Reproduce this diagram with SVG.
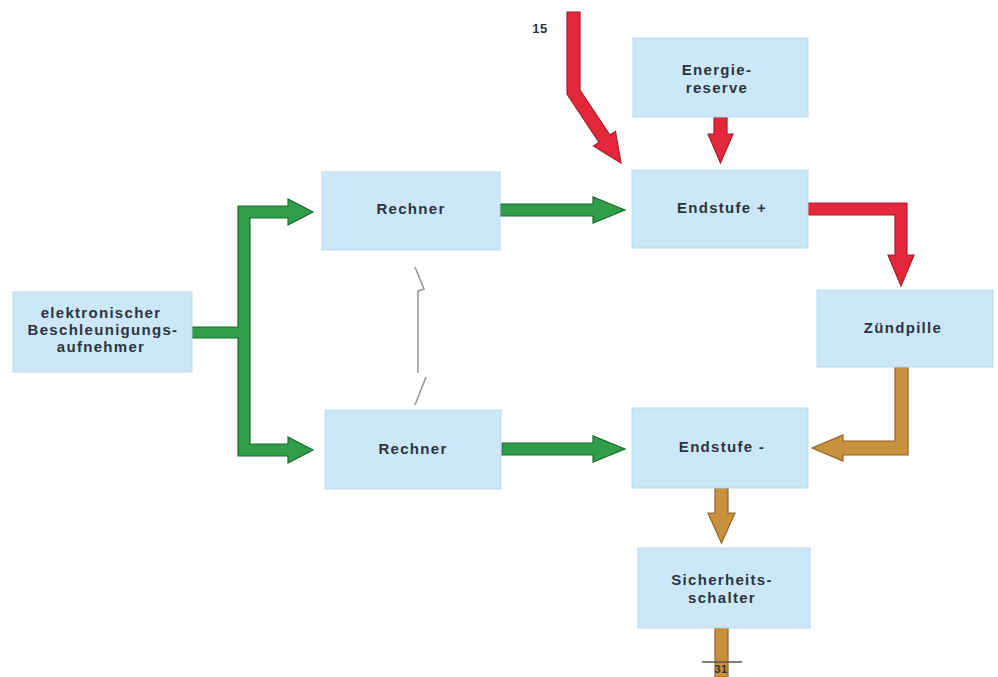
<svg xmlns="http://www.w3.org/2000/svg" width="998" height="677" viewBox="0 0 998 677">
<style>
.box{fill:#cce8f8;stroke:#b9dcf1;stroke-width:1}
.t{font-family:"Liberation Sans",Arial,sans-serif;font-weight:bold;font-size:15px;letter-spacing:1.3px;fill:#2b3440;text-anchor:middle}
.g{fill:#2f9d49;stroke:#1d6a30;stroke-width:1.2;stroke-linejoin:miter}
.r{fill:#e3283c;stroke:#a81c2b;stroke-width:1.2}
.b{fill:#c9903d;stroke:#8f6526;stroke-width:1.2}
.gray{fill:none;stroke:#9a9a9a;stroke-width:1.6}
</style>
<rect width="998" height="677" fill="#ffffff"/>
<g id="connectors">
<path class="g" d="M192,327 L238,327 L238,206 L288,206 L288,199 L313,212 L288,225 L288,218 L250,218 L250,444 L288,444 L288,437 L313,450 L288,463 L288,456 L238,456 L238,338 L192,338 Z"/>
<path class="g" d="M500,204 L593,204 L593,197 L625,210 L593,223 L593,216 L500,216 Z"/>
<path class="g" d="M502,443 L593,443 L593,436 L625,449 L593,462 L593,455 L502,455 Z"/>
<path class="r" d="M567,12 L580,12 L580,90 L609.9,135.1 L615.5,131.4 L621,163 L593.5,146 L599.1,142.3 L567,94 Z"/>
<path class="r" d="M714,117 L727,117 L727,134 L733,134 L720.5,163 L708,134 L714,134 Z"/>
<path class="r" d="M808,203 L907,203 L907,255 L914,255 L901,286 L888,255 L895,255 L895,215 L808,215 Z"/>
<path class="b" d="M895,367 L908,367 L908,455 L843,455 L843,461 L812,448 L843,435 L843,441 L895,441 Z"/>
<path class="b" d="M715,488 L728,488 L728,513 L735,513 L721.5,543 L708,513 L715,513 Z"/>
<path class="b" d="M715,628 L728,628 L728,677 L715,677 Z"/>
<line x1="702" y1="662" x2="742" y2="662" stroke="#555" stroke-width="1.5"/>
<path class="gray" d="M415,267 L424,289 L418,291 L418,373 M426,377 L415,405"/>
<text class="t" x="540" y="33" style="font-size:13px;letter-spacing:0.5px">15</text>
<text class="t" x="721" y="673" style="font-size:11px;letter-spacing:0.5px">31</text>
</g>
<g id="beschleunigungsaufnehmer">
<rect class="box" x="13" y="292" width="179" height="80"/>
<text class="t" x="101" y="318">elektronischer</text>
<text class="t" x="103" y="335">Beschleunigungs-</text>
<text class="t" x="101" y="352">aufnehmer</text>
</g>
<g id="rechner1">
<rect class="box" x="322" y="172" width="178" height="78"/>
<text class="t" x="411" y="214">Rechner</text>
</g>
<g id="rechner2">
<rect class="box" x="325" y="410" width="176" height="79"/>
<text class="t" x="413" y="454">Rechner</text>
</g>
<g id="energiereserve">
<rect class="box" x="633" y="38" width="175" height="79"/>
<text class="t" x="717" y="75">Energie-</text>
<text class="t" x="717" y="93">reserve</text>
</g>
<g id="endstufe-plus">
<rect class="box" x="632" y="170" width="176" height="78"/>
<text class="t" x="722" y="213">Endstufe +</text>
</g>
<g id="zuendpille">
<rect class="box" x="817" y="290" width="176" height="77"/>
<text class="t" x="903" y="333">Zündpille</text>
</g>
<g id="endstufe-minus">
<rect class="box" x="632" y="408" width="176" height="80"/>
<text class="t" x="722" y="452">Endstufe -</text>
</g>
<g id="sicherheitsschalter">
<rect class="box" x="638" y="548" width="172" height="80"/>
<text class="t" x="722" y="585">Sicherheits-</text>
<text class="t" x="722" y="603">schalter</text>
</g>
</svg>
